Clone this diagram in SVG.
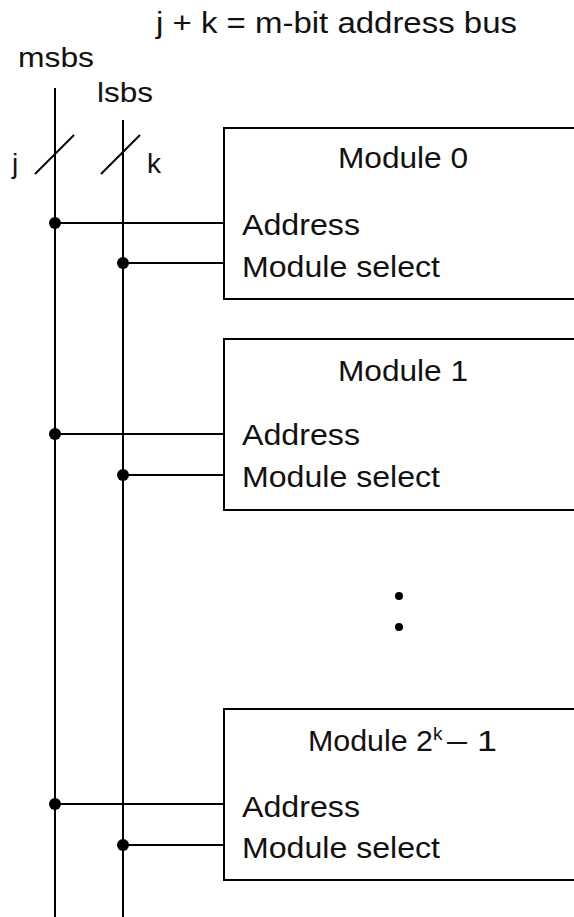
<svg xmlns="http://www.w3.org/2000/svg" width="574" height="917" viewBox="0 0 574 917">
<style>
  .ln { stroke: #000; stroke-width: 2; fill: none; }
  .box { stroke: #000; stroke-width: 2; fill: #fff; }
  .dot { fill: #000; }
  text { font-family: "Liberation Sans", Arial, sans-serif; fill: #111; }
  .t { font-size: 30px; }
  .s { font-size: 28px; }
  .sup { font-size: 19px; }
</style>
<rect width="574" height="917" fill="#fff"/>
<g id="title">
  <text class="t" x="156" y="33" textLength="361" lengthAdjust="spacingAndGlyphs">j + k = m-bit address bus</text>
</g>
<g id="bus-labels">
  <text class="s" x="18" y="67" textLength="76" lengthAdjust="spacingAndGlyphs">msbs</text>
  <text class="s" x="97" y="102" textLength="56" lengthAdjust="spacingAndGlyphs">lsbs</text>
  <text class="s" x="12" y="173">j</text>
  <text class="s" x="147" y="173">k</text>
</g>
<g id="connectors">
  <line class="ln" x1="55" y1="88" x2="55" y2="917"/>
  <line class="ln" x1="123" y1="120" x2="123" y2="917"/>
  <line class="ln" x1="35" y1="174" x2="74" y2="135"/>
  <line class="ln" x1="101" y1="174" x2="140" y2="135"/>
  <line class="ln" x1="55" y1="223" x2="224" y2="223"/>
  <line class="ln" x1="123" y1="263" x2="224" y2="263"/>
  <line class="ln" x1="55" y1="434" x2="224" y2="434"/>
  <line class="ln" x1="123" y1="475" x2="224" y2="475"/>
  <line class="ln" x1="55" y1="804" x2="224" y2="804"/>
  <line class="ln" x1="123" y1="845" x2="224" y2="845"/>
  <circle class="dot" cx="55" cy="223" r="6"/>
  <circle class="dot" cx="123" cy="263" r="6"/>
  <circle class="dot" cx="55" cy="434" r="6"/>
  <circle class="dot" cx="123" cy="475" r="6"/>
  <circle class="dot" cx="55" cy="804" r="6"/>
  <circle class="dot" cx="123" cy="845" r="6"/>
</g>
<g id="module0">
  <rect class="box" x="224" y="128" width="360" height="171"/>
  <text class="t" x="338" y="168" textLength="130" lengthAdjust="spacingAndGlyphs">Module 0</text>
  <text class="t" x="242" y="235" textLength="118" lengthAdjust="spacingAndGlyphs">Address</text>
  <text class="t" x="242" y="277" textLength="198" lengthAdjust="spacingAndGlyphs">Module select</text>
</g>
<g id="module1">
  <rect class="box" x="224" y="339" width="360" height="171"/>
  <text class="t" x="338" y="381" textLength="130" lengthAdjust="spacingAndGlyphs">Module 1</text>
  <text class="t" x="242" y="445" textLength="118" lengthAdjust="spacingAndGlyphs">Address</text>
  <text class="t" x="242" y="487" textLength="198" lengthAdjust="spacingAndGlyphs">Module select</text>
</g>
<g id="ellipsis">
  <circle class="dot" cx="399" cy="596" r="4"/>
  <circle class="dot" cx="399" cy="627" r="4"/>
</g>
<g id="module-last">
  <rect class="box" x="224" y="709" width="360" height="171"/>
  <text class="t" y="751"><tspan x="308" textLength="125" lengthAdjust="spacingAndGlyphs">Module 2</tspan><tspan class="sup" x="433" y="740">k</tspan><tspan x="447" y="751" textLength="50" lengthAdjust="spacingAndGlyphs">– 1</tspan></text>
  <text class="t" x="242" y="817" textLength="118" lengthAdjust="spacingAndGlyphs">Address</text>
  <text class="t" x="242" y="858" textLength="198" lengthAdjust="spacingAndGlyphs">Module select</text>
</g>
</svg>
